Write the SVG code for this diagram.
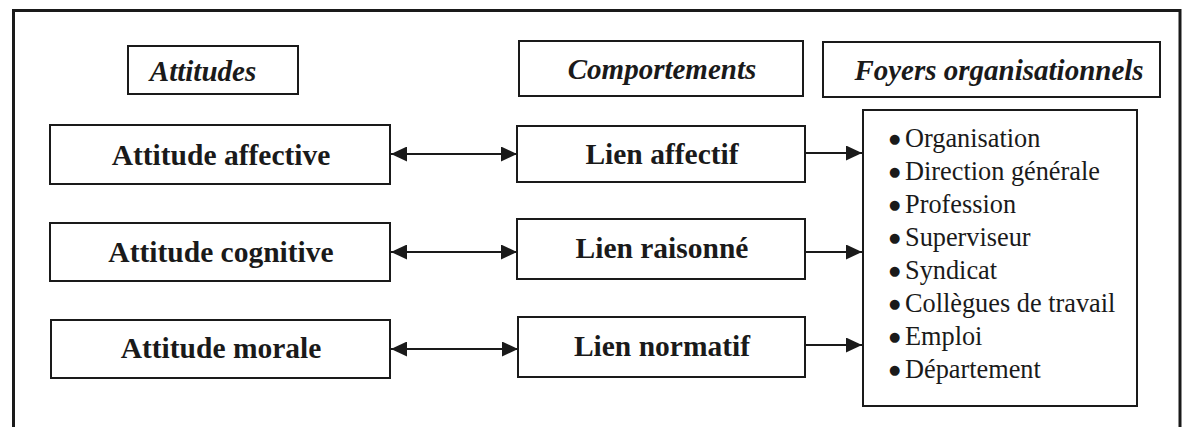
<svg xmlns="http://www.w3.org/2000/svg" width="1186" height="427" viewBox="0 0 1186 427">
  <style>
    .box { fill: #fff; stroke: #1a1a1a; stroke-width: 2; }
    .frame { fill: none; stroke: #1a1a1a; stroke-width: 3; }
    .head { font-family: "Liberation Serif", "Times New Roman", serif; font-size: 29px; font-weight: bold; font-style: italic; fill: #1a1a1a; text-anchor: middle; }
    .lbl { font-family: "Liberation Serif", "Times New Roman", serif; font-size: 29.5px; font-weight: bold; fill: #1a1a1a; text-anchor: middle; }
    .item { font-family: "Liberation Serif", "Times New Roman", serif; font-size: 26.3px; fill: #1a1a1a; }
    .dot { font-family: "DejaVu Sans", sans-serif; font-size: 13px; }
    .link { fill: none; stroke: #1a1a1a; stroke-width: 2; }
  </style>
  <defs>
    <marker id="head" viewBox="0 0 16 15" refX="16" refY="7.5" markerWidth="16" markerHeight="15" markerUnits="userSpaceOnUse" orient="auto-start-reverse">
      <path d="M0,0 L16,7.5 L0,15 Z" fill="#1a1a1a"/>
    </marker>
  </defs>

  <rect width="1186" height="427" fill="#fff"/>

  <!-- open outer frame -->
  <path class="frame" d="M13.5,427 V10.5 H1180 V427"/>

  <!-- column headers -->
  <g id="hdr-attitudes">
    <rect class="box" x="128" y="46" width="170" height="48"/>
    <text class="head" x="203" y="81">Attitudes</text>
  </g>
  <g id="hdr-comportements">
    <rect class="box" x="519" y="41" width="284" height="55"/>
    <text class="head" x="662" y="79">Comportements</text>
  </g>
  <g id="hdr-foyers">
    <rect class="box" x="823" y="42" width="337" height="55"/>
    <text class="head" x="999" y="80">Foyers organisationnels</text>
  </g>

  <!-- attitudes -->
  <g id="att-affective">
    <rect class="box" x="50" y="125" width="340" height="59"/>
    <text class="lbl" x="221" y="165">Attitude affective</text>
  </g>
  <g id="att-cognitive">
    <rect class="box" x="50" y="223" width="340" height="58"/>
    <text class="lbl" x="221" y="262">Attitude cognitive</text>
  </g>
  <g id="att-morale">
    <rect class="box" x="51" y="320" width="339" height="58"/>
    <text class="lbl" x="221" y="358">Attitude morale</text>
  </g>

  <!-- behaviours -->
  <g id="lien-affectif">
    <rect class="box" x="517" y="126" width="288" height="56"/>
    <text class="lbl" x="662" y="164">Lien affectif</text>
  </g>
  <g id="lien-raisonne">
    <rect class="box" x="517" y="219" width="288" height="60"/>
    <text class="lbl" x="662" y="258">Lien raisonné</text>
  </g>
  <g id="lien-normatif">
    <rect class="box" x="518" y="317" width="287" height="60"/>
    <text class="lbl" x="662" y="356">Lien normatif</text>
  </g>

  <!-- organisational foci -->
  <g id="foyers-liste">
    <rect class="box" x="863" y="110" width="274" height="296"/>
    <text class="item" y="147"><tspan class="dot" x="889" dy="-4">●</tspan><tspan x="905" dy="4">Organisation</tspan></text>
    <text class="item" y="180"><tspan class="dot" x="889" dy="-4">●</tspan><tspan x="905" dy="4">Direction générale</tspan></text>
    <text class="item" y="213"><tspan class="dot" x="889" dy="-4">●</tspan><tspan x="905" dy="4">Profession</tspan></text>
    <text class="item" y="246"><tspan class="dot" x="889" dy="-4">●</tspan><tspan x="905" dy="4">Superviseur</tspan></text>
    <text class="item" y="279"><tspan class="dot" x="889" dy="-4">●</tspan><tspan x="905" dy="4">Syndicat</tspan></text>
    <text class="item" y="312"><tspan class="dot" x="889" dy="-4">●</tspan><tspan x="905" dy="4">Collègues de travail</tspan></text>
    <text class="item" y="345"><tspan class="dot" x="889" dy="-4">●</tspan><tspan x="905" dy="4">Emploi</tspan></text>
    <text class="item" y="378"><tspan class="dot" x="889" dy="-4">●</tspan><tspan x="905" dy="4">Département</tspan></text>
  </g>

  <!-- connectors -->
  <g id="connectors">
    <line class="link" x1="391" y1="154" x2="517" y2="154" marker-start="url(#head)" marker-end="url(#head)"/>
    <line class="link" x1="391" y1="252" x2="517" y2="252" marker-start="url(#head)" marker-end="url(#head)"/>
    <line class="link" x1="391" y1="349" x2="518" y2="349" marker-start="url(#head)" marker-end="url(#head)"/>
    <line class="link" x1="805" y1="153" x2="862" y2="153" marker-end="url(#head)"/>
    <line class="link" x1="805" y1="252" x2="862" y2="252" marker-end="url(#head)"/>
    <line class="link" x1="805" y1="345" x2="862" y2="345" marker-end="url(#head)"/>
  </g>
</svg>
